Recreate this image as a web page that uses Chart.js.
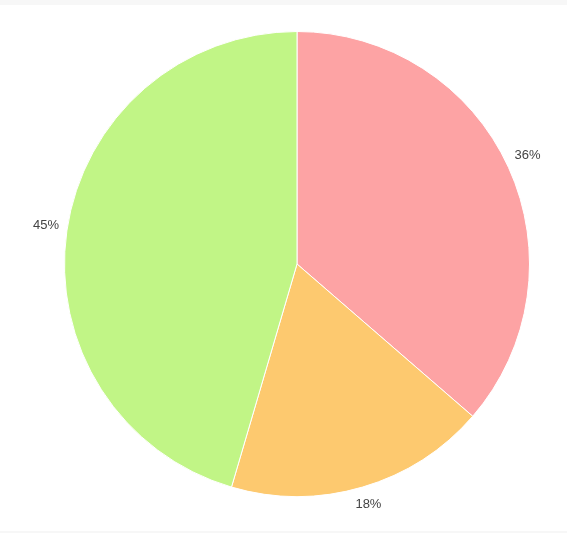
<!DOCTYPE html>
<html>
<head>
<meta charset="utf-8">
<script src="https://cdn.jsdelivr.net/npm/chart.js@4"></script>
<style>
    html, body { margin: 0; padding: 0; background: #fff; }
    #wrap { width: 567px; height: 533px; position: relative; }
</style>
</head>
<body>
<div id="wrap"><canvas id="myChart"></canvas></div>
<script>
var labels = ['A', 'B', 'C'];
var values = [4, 2, 5];
var colors = ['#fda3a4', '#fdc96f', '#c1f586'];

// gray bands at top and bottom of the picture
var bandsPlugin = {
    id: 'bands',
    beforeDraw: function(chart) {
        var c = chart.ctx;
        c.save();
        c.fillStyle = '#f7f7f7';
        c.fillRect(0, 0, chart.width, 5);
        c.fillRect(0, 531, chart.width, 2);
        c.restore();
    }
};

// percent labels outside the slices
var outLabels = {
    id: 'outLabels',
    afterDatasetsDraw: function(chart) {
        var c = chart.ctx;
        var meta = chart.getDatasetMeta(0);
        var total = values.reduce(function(a, b) { return a + b; }, 0);
        c.save();
        c.font = '13px "Liberation Sans", Arial, sans-serif';
        c.fillStyle = '#444';
        c.textAlign = 'center';
        c.textBaseline = 'middle';
        meta.data.forEach(function(arc, i) {
            var mid = (arc.startAngle + arc.endAngle) / 2;
            var r = arc.outerRadius + 21;
            var x = arc.x + Math.cos(mid) * r;
            var y = arc.y + Math.sin(mid) * r - 3;
            c.fillText(Math.round(values[i] / total * 100) + '%', x, y);
        });
        c.restore();
    }
};

var ctx = document.getElementById('myChart').getContext('2d');
var myChart = new Chart(ctx, {
    type: 'pie',
    data: {
        labels: labels,
        datasets: [{
            data: values,
            backgroundColor: colors,
            borderColor: '#ffffff',
            borderWidth: 1
        }]
    },
    options: {
        responsive: true,
        maintainAspectRatio: false,
        animation: false,
        layout: { padding: { left: 64, right: 37, top: 31, bottom: 36 } },
        plugins: {
            legend: { display: false },
            tooltip: { enabled: false }
        }
    },
    plugins: [bandsPlugin, outLabels]
});
</script>
</body>
</html>
